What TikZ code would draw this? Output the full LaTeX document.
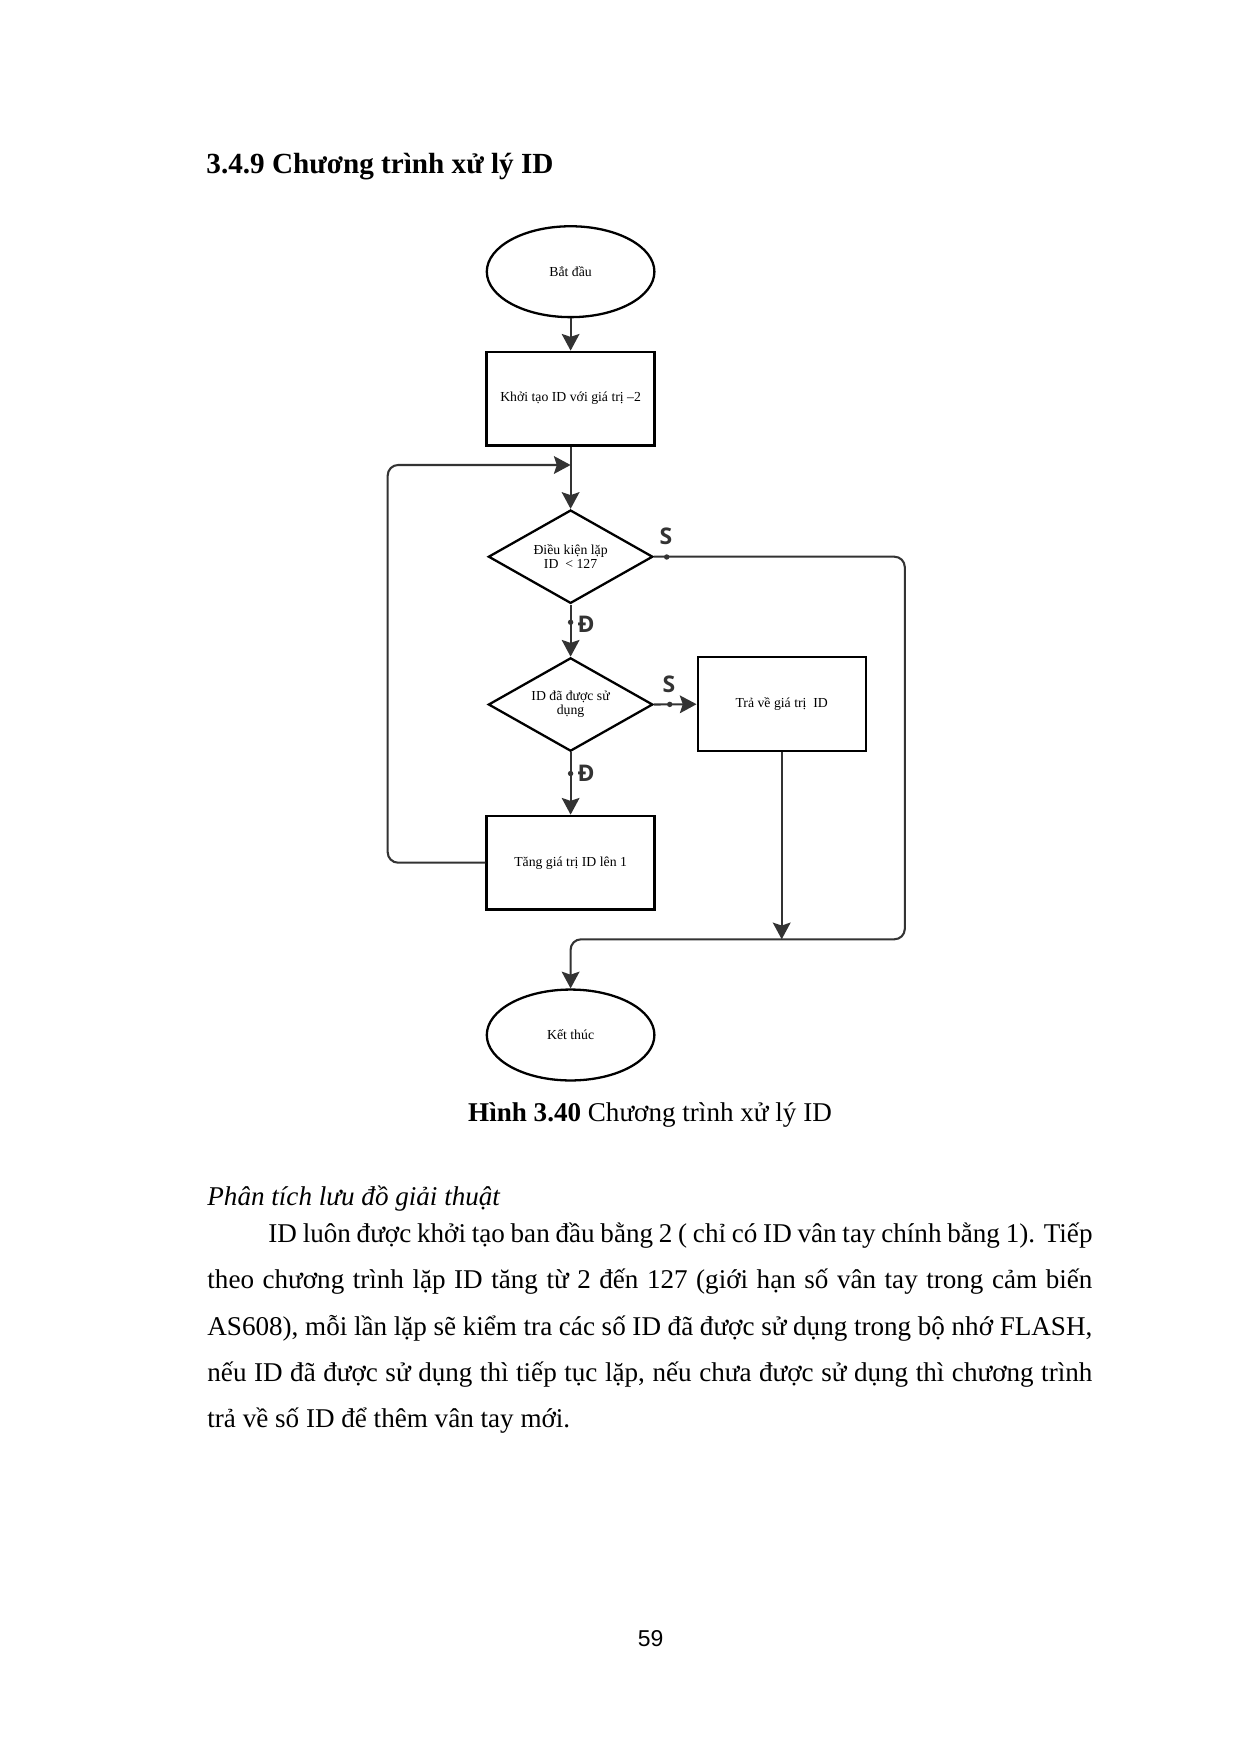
\documentclass[tikz,border=0pt]{standalone}
\usepackage{fontspec}
\setmainfont{Liberation Serif}
\newfontfamily\lblfont{Open Sans}
\newfontfamily\pgfont{Liberation Sans}
\usetikzlibrary{shapes.geometric,arrows.meta,positioning}
\definecolor{conncol}{HTML}{333333}
\tikzset{
  x=0.4797pt, y=-0.4797pt,
  diagtext/.style={font=\fontsize{6.6}{6.9}\selectfont, align=center, text=black},
  term/.style={ellipse, draw=black, line width=1.1pt, minimum width=80.4pt, minimum height=43.6pt, inner sep=0pt, diagtext},
  proc/.style={rectangle, draw=black, line width=1.1pt, minimum width=80.6pt, minimum height=45pt, inner sep=0pt, diagtext},
  dec/.style={diamond, draw=black, line width=1.1pt, aspect=1.76, minimum width=78.9pt, minimum height=44.8pt, inner sep=0pt, diagtext},
  conn/.style={draw=conncol, line width=1pt},
  arr/.style={conn, -{Stealth[length=8pt, width=8.5pt, inset=1.4pt]}},
  dotn/.style={circle, fill=conncol, inner sep=0pt, minimum size=2.6pt},
  lbl/.style={font=\lblfont\bfseries\fontsize{11}{12}\selectfont, inner sep=0pt, text=conncol},
  txt/.style={inner sep=0pt, anchor=base west, font=\fontsize{13}{15}\selectfont},
}
\begin{document}
\begin{tikzpicture}
\useasboundingbox[fill=white] (0,0) rectangle (1241,1753);

% heading
\node[txt, font=\fontsize{14}{16}\selectfont\bfseries] (head) at (206,174) {3.4.9 Chương trình xử lý ID};

% flowchart nodes
\node[term] (start) at (570.6,271.7) {Bắt đầu};
\node[proc] (init) at (570.6,398.7) {Khởi tạo ID với giá trị –2};
\node[dec] (d1) at (570.6,556.7) {Điều kiện lặp\\ID~~< 127};
\node[dec] (d2) at (570.6,704.5) {ID đã được sử\\dụng};
\node[proc] (ret) at (781.7,704.2) {Trả về giá trị~~ID};
\node[proc] (inc) at (570.6,862.7) {Tăng giá trị ID lên 1};
\node[term] (end) at (570.6,1035) {Kết thúc};

% helper coordinates
\coordinate (lj) at (570.6,465);
\coordinate (rc) at (904.8,939.3);
\coordinate (m2) at (781.7,939.3);

% connectors
\draw[arr] (start) -- (init);
\draw[arr] (init) -- (d1);
\draw[arr] (d1.south) -- node[dotn, pos=0.34] (p1) {} (d2.north);
\draw[arr] (d2.south) -- node[dotn, pos=0.34] (p2) {} (inc.north);
\draw[arr] (d2.east) -- node[dotn, pos=0.37] (p4) {} (ret.west);
\draw[arr] (ret.south) -- (m2);
\draw[arr, rounded corners=5pt] (d1.east) -| (rc) -| (end.north);
\node[dotn] (p3) at (666.7,557) {};
\draw[arr, rounded corners=5pt] (inc.west) -- (387.7,862.7) |- (lj);

% branch labels
\node[lbl] (s1) at (666,536) {S};
\node[lbl] (s2) at (669,684) {S};
\node[lbl] (t1) at (586,624) {Đ};
\node[lbl] (t2) at (586,773) {Đ};

% caption
\node[inner sep=0pt, anchor=base, font=\fontsize{13}{15}\selectfont] (cap) at (650,1121) {\textbf{Hình 3.40} Chương trình xử lý ID};

% body text
\node[txt, font=\fontsize{13}{15}\selectfont\itshape] (sub) at (207,1205) {Phân tích lưu đồ giải thuật};
\node[txt] (l1) at (268,1242.5) {\makebox[395.3pt][s]{ID luôn được khởi tạo ban đầu bằng 2 ( chỉ có ID vân tay chính bằng 1). Tiếp}};
\node[txt] (l2) at (207,1288.7) {\makebox[424.5pt][s]{theo chương trình lặp ID tăng từ 2 đến 127 (giới hạn số vân tay trong cảm biến}};
\node[txt] (l3) at (207,1335) {\makebox[424.5pt][s]{AS608), mỗi lần lặp sẽ kiểm tra các số ID đã được sử dụng trong bộ nhớ FLASH,}};
\node[txt] (l4) at (207,1381.2) {\makebox[424.5pt][s]{nếu ID đã được sử dụng thì tiếp tục lặp, nếu chưa được sử dụng thì chương trình}};
\node[txt] (l5) at (207,1427.5) {trả về số ID để thêm vân tay mới.};

% page number
\node[inner sep=0pt, anchor=base, font=\pgfont\fontsize{11}{13}\selectfont] (pg) at (650.5,1646.5) {59};
\end{tikzpicture}
\end{document}
